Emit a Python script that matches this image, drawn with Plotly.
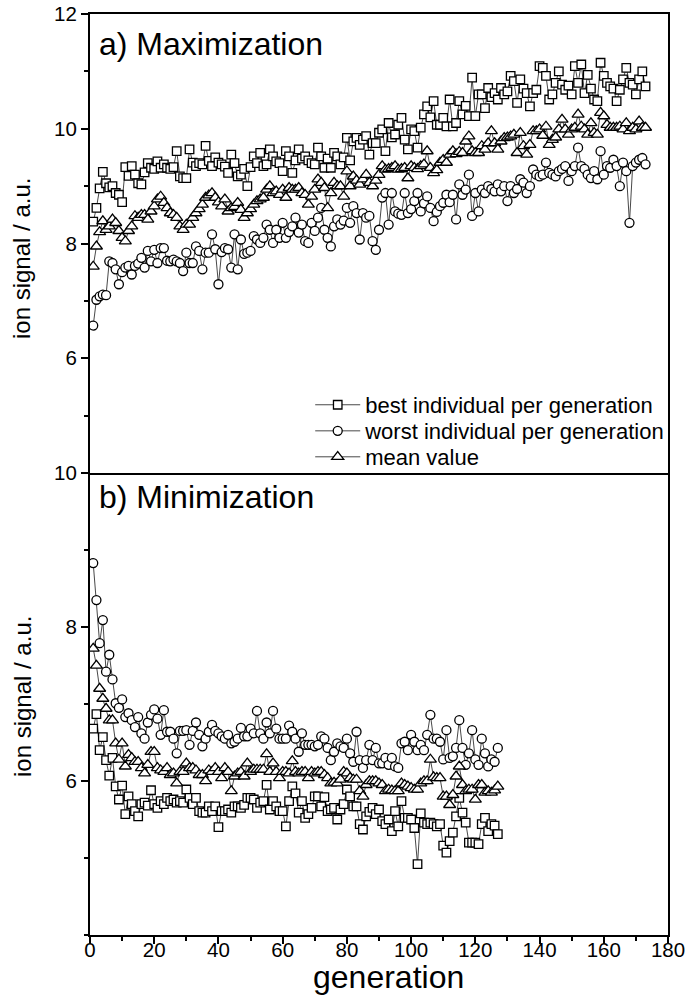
import plotly.graph_objects as go

# ---- a) Maximization: generations 1..173 ----
gen_max = list(range(1, 174))
max_best = [
    8.38, 8.62, 8.96, 9.25, 9.05, 8.98, 9.00, 8.88, 8.85, 8.72,
    9.33, 9.18, 9.35, 9.20, 9.05, 9.03, 9.24, 9.40, 9.32, 9.30,
    9.43, 9.32, 9.38, 9.32, 9.30, 9.33, 9.61, 9.17, 9.14, 9.14,
    9.64, 9.41, 9.35, 9.40, 9.38, 9.70, 9.44, 9.35, 9.50, 9.41,
    9.38, 9.34, 9.23, 9.55, 9.40, 9.17, 9.20, 9.30, 9.00, 9.33,
    9.52, 9.40, 9.58, 9.35, 9.38, 9.64, 9.52, 9.43, 9.40, 9.26,
    9.61, 9.52, 9.23, 9.45, 9.64, 9.48, 9.52, 9.45, 9.40, 9.38,
    9.67, 9.52, 9.32, 9.48, 9.32, 9.58, 9.52, 9.38, 9.50, 9.84,
    9.45, 9.78, 9.84, 9.72, 9.81, 9.87, 9.55, 9.75, 9.75, 9.93,
    9.99, 9.61, 10.10, 9.85, 9.90, 10.07, 10.19, 9.81, 9.64, 9.99,
    9.96, 9.67, 10.02, 10.25, 10.39, 10.20, 10.48, 10.07, 10.07, 10.19,
    10.04, 10.51, 10.04, 10.10, 10.48, 10.25, 10.40, 10.22, 10.89, 10.22,
    10.60, 10.60, 10.36, 10.71, 10.55, 10.62, 10.51, 10.71, 10.60, 10.65,
    10.92, 10.83, 10.45, 10.86, 10.70, 10.62, 10.39, 10.62, 10.68, 11.09,
    11.06, 10.92, 10.51, 10.60, 10.80, 11.00, 10.77, 10.68, 10.75, 10.60,
    11.09, 10.80, 11.12, 10.62, 10.94, 10.70, 10.51, 10.48, 11.15, 10.92,
    10.80, 10.74, 10.70, 10.48, 10.68, 10.86, 11.06, 10.80, 10.77, 10.60,
    10.86, 11.00, 10.74,
]
max_worst = [
    6.57, 7.02, 7.08, 7.11, 7.10, 7.69, 7.66, 7.55, 7.29, 7.50,
    7.58, 7.61, 7.46, 7.61, 7.65, 7.75, 7.58, 7.87, 7.69, 7.89,
    7.66, 7.92, 7.92, 7.70, 7.69, 7.72, 7.69, 7.66, 7.52, 7.84,
    7.66, 7.66, 7.95, 7.87, 7.55, 7.84, 7.84, 8.16, 7.90, 7.29,
    7.85, 7.92, 7.90, 7.58, 8.16, 7.55, 8.07, 7.82, 7.84, 7.87,
    8.13, 8.07, 8.01, 8.10, 8.33, 8.24, 8.01, 8.24, 8.10, 8.36,
    8.10, 8.20, 8.30, 8.45, 8.19, 8.33, 8.04, 8.01, 8.36, 8.22,
    8.45, 8.62, 8.24, 8.10, 7.95, 8.30, 8.42, 8.33, 8.40, 8.62,
    8.36, 8.65, 8.53, 8.07, 8.53, 8.45, 8.48, 8.04, 7.89, 8.24,
    8.80, 8.88, 8.33, 8.88, 8.56, 8.52, 8.50, 8.88, 8.53, 8.60,
    8.74, 8.88, 8.56, 8.70, 8.82, 8.62, 8.39, 8.55, 8.65, 8.71,
    8.85, 8.72, 8.85, 8.42, 9.03, 8.85, 8.94, 9.20, 8.48, 8.88,
    8.56, 8.94, 8.88, 9.00, 8.95, 8.91, 9.03, 8.91, 9.00, 8.74,
    9.00, 8.88, 8.95, 9.12, 9.06, 8.88, 9.00, 9.29, 9.20, 9.17,
    9.20, 9.41, 9.23, 9.20, 9.17, 9.26, 9.30, 9.35, 9.09, 9.26,
    9.35, 9.67, 9.35, 9.30, 9.20, 9.14, 9.26, 9.12, 9.61, 9.20,
    9.35, 9.32, 9.46, 9.35, 9.00, 9.41, 9.26, 8.36, 9.35, 9.41,
    9.46, 9.49, 9.38,
]
max_mean = [
    7.60, 7.95, 8.20, 8.39, 8.24, 8.30, 8.42, 8.36, 8.22, 8.10,
    8.04, 8.22, 8.30, 8.48, 8.45, 8.50, 8.50, 8.42, 8.56, 8.65,
    8.77, 8.82, 8.71, 8.62, 8.53, 8.50, 8.45, 8.30, 8.24, 8.33,
    8.33, 8.45, 8.53, 8.60, 8.68, 8.80, 8.84, 8.88, 8.80, 8.72,
    8.65, 8.77, 8.56, 8.62, 8.64, 8.71, 8.59, 8.45, 8.53, 8.60,
    8.68, 8.74, 8.77, 8.80, 8.94, 9.00, 8.88, 8.91, 8.85, 8.94,
    8.80, 8.97, 8.94, 8.94, 8.97, 8.88, 8.85, 8.68, 8.82, 8.94,
    9.12, 9.06, 8.97, 8.62, 8.88, 9.06, 9.00, 9.00, 8.82, 9.26,
    9.00, 9.17, 9.10, 9.03, 9.12, 9.20, 9.06, 9.00, 9.10, 9.20,
    9.35, 9.29, 9.30, 9.32, 9.35, 9.29, 9.30, 9.32, 9.14, 9.35,
    9.32, 9.30, 9.35, 9.38, 9.61, 9.32, 9.23, 9.28, 9.41, 9.46,
    9.41, 9.55, 9.61, 9.56, 9.60, 9.58, 9.78, 9.87, 9.61, 9.58,
    9.58, 9.70, 9.64, 9.75, 9.96, 9.75, 9.64, 9.78, 9.84, 9.85,
    9.87, 9.90, 9.58, 9.93, 9.70, 9.55, 9.72, 9.96, 9.96, 9.99,
    9.88, 10.04, 9.72, 9.81, 9.85, 9.99, 10.16, 9.99, 9.90, 9.99,
    10.02, 10.25, 10.04, 9.99, 9.90, 10.10, 9.93, 9.90, 10.28, 10.22,
    10.07, 10.02, 10.02, 10.02, 10.04, 9.99, 10.10, 9.96, 10.02, 9.99,
    10.13, 10.02, 10.02,
]

# ---- b) Minimization: generations 1..127 ----
gen_min = list(range(1, 128))
min_best = [
    6.68, 6.87, 6.40, 6.57, 6.27, 6.07, 6.30, 5.93, 5.76, 5.94,
    5.57, 5.80, 5.70, 5.61, 5.54, 5.70, 5.72, 5.68, 5.88, 5.70,
    5.65, 5.74, 5.70, 5.78, 5.74, 5.76, 5.72, 5.74, 5.72, 5.89,
    5.78, 5.70, 5.78, 5.61, 5.59, 5.59, 5.67, 5.61, 5.67, 5.40,
    5.61, 5.61, 5.63, 5.59, 5.67, 5.67, 5.65, 5.69, 5.78, 5.78,
    5.76, 5.65, 5.72, 5.74, 5.95, 5.63, 5.74, 5.67, 5.61, 5.61,
    5.41, 5.74, 5.93, 5.84, 5.59, 5.74, 5.52, 5.57, 5.65, 5.80,
    5.80, 5.67, 5.79, 5.61, 5.63, 5.65, 5.50, 5.63, 5.70, 5.89,
    5.80, 5.67, 5.67, 5.44, 5.37, 5.54, 5.60, 5.65, 5.57, 5.63,
    5.48, 5.44, 5.50, 5.35, 5.61, 5.41, 5.74, 5.52, 5.52, 5.50,
    5.39, 4.92, 5.58, 5.46, 5.44, 5.46, 5.44, 5.41, 5.44, 5.16,
    5.07, 5.22, 5.33, 5.54, 5.78, 5.59, 5.46, 5.20, 5.20, 5.20,
    5.18, 5.44, 5.52, 5.35, 5.44, 5.42, 5.31,
]
min_worst = [
    8.83, 8.35, 7.79, 8.09, 7.42, 7.64, 7.32, 7.01, 6.95, 7.06,
    6.83, 6.88, 6.79, 6.70, 6.83, 6.62, 6.55, 6.76, 6.86, 6.93,
    6.81, 6.60, 6.92, 6.64, 6.64, 6.55, 6.36, 6.65, 6.65, 6.66,
    6.47, 6.65, 6.76, 6.60, 6.45, 6.55, 6.64, 6.73, 6.65, 6.62,
    6.58, 6.55, 6.60, 6.49, 6.51, 6.55, 6.69, 6.58, 6.58, 6.68,
    6.62, 6.91, 6.62, 6.55, 6.76, 6.62, 6.91, 6.68, 6.55, 6.55,
    6.55, 6.72, 6.64, 6.55, 6.38, 6.62, 6.47, 6.47, 6.47, 6.45,
    6.47, 6.58, 6.55, 6.43, 6.27, 6.38, 6.49, 6.45, 6.43, 6.55,
    6.36, 6.25, 6.64, 6.27, 6.17, 6.27, 6.47, 6.27, 6.43, 6.23,
    6.23, 6.30, 6.21, 6.30, 6.19, 6.17, 6.49, 6.51, 6.40, 6.60,
    6.51, 6.40, 6.47, 6.40, 6.60, 6.86, 6.55, 6.55, 6.51, 6.28,
    6.66, 6.30, 6.32, 6.43, 6.79, 6.43, 6.21, 6.36, 6.66, 6.28,
    6.21, 6.55, 6.36, 6.19, 6.28, 6.25, 6.43,
]
min_mean = [
    7.72, 7.50, 7.20, 7.07, 6.94, 6.79, 6.79, 6.49, 6.28, 6.49,
    6.19, 6.34, 6.30, 6.25, 6.25, 6.17, 6.10, 6.21, 6.38, 6.38,
    6.17, 6.14, 6.12, 6.17, 6.08, 6.10, 5.97, 6.12, 6.12, 6.23,
    6.17, 6.17, 6.14, 6.08, 6.08, 6.00, 6.14, 6.12, 6.17, 6.12,
    6.04, 6.17, 6.12, 5.87, 6.06, 6.10, 6.12, 6.06, 6.23, 6.12,
    6.15, 6.15, 6.15, 6.15, 6.35, 6.12, 6.23, 6.12, 6.04, 6.12,
    6.12, 6.10, 6.26, 6.12, 6.10, 6.12, 6.12, 6.04, 6.12, 6.10,
    6.12, 6.12, 6.08, 6.04, 5.97, 5.98, 5.97, 6.02, 6.12, 6.10,
    6.04, 6.02, 6.02, 5.87, 5.80, 5.95, 6.00, 6.00, 6.00, 5.97,
    5.95, 5.87, 5.89, 5.88, 5.87, 5.87, 5.97, 5.95, 5.93, 5.91,
    5.89, 5.89, 5.97, 6.00, 6.00, 6.28, 6.05, 6.04, 6.04, 5.80,
    5.80, 5.69, 5.82, 6.06, 6.19, 5.95, 5.87, 5.89, 5.89, 5.76,
    5.95, 5.95, 5.85, 5.87, 5.85, 5.88, 5.93,
]

series_names = [
    "best individual per generation",
    "worst individual per generation",
    "mean value",
]
symbols = ["square", "circle", "triangle-up"]
sizes = [8.5, 9, 10.5]
legend_ids = ["legend", "legend2", "legend3"]

FONT = "Liberation Sans, Arial, sans-serif"
SPLIT = 0.5016  # boundary between the two panels (paper units)

fig = go.Figure()

panels = [
    ("x2", "y", gen_max, [max_best, max_worst, max_mean], True),
    ("x", "y2", gen_min, [min_best, min_worst, min_mean], False),
]
for xa, ya, gens, ys, show in panels:
    for name, sym, sz, vals, lg in zip(series_names, symbols, sizes, ys, legend_ids):
        fig.add_trace(go.Scatter(
            x=gens, y=vals, name=name, mode="lines+markers",
            xaxis=xa, yaxis=ya, showlegend=show, legend=lg,
            line=dict(color="#333333", width=0.9),
            marker=dict(symbol=sym, size=sz, color="white",
                        line=dict(color="black", width=1.3)),
        ))

axis_common = dict(showline=True, linecolor="black", linewidth=2,
                   showgrid=False, zeroline=False, color="black",
                   automargin=False,
                   tickfont=dict(family=FONT, size=20.5, color="black"))

y_minor = dict(dtick=1, tick0=0, ticks="outside", ticklen=4,
               tickwidth=1.5, tickcolor="black")

# one legend box per series, stacked in the lower right of panel a)
legend_rows = [0.5755, 0.5472, 0.519]
legend_boxes = {}
for lg, yrow in zip(legend_ids, legend_rows):
    legend_boxes[lg] = dict(
        x=0.381, xanchor="left", y=yrow, yanchor="middle",
        bgcolor="rgba(0,0,0,0)", borderwidth=0, itemwidth=45,
        font=dict(family=FONT, size=22, color="black"),
    )

fig.update_layout(
    width=688, height=1004,
    margin=dict(l=90, r=20, t=14, b=69, autoexpand=False),
    paper_bgcolor="white", plot_bgcolor="white",
    font=dict(family=FONT, color="black"),
    # bottom x axis (shared scale), only its lower line is drawn
    xaxis=dict(domain=[0, 1], anchor="y2", range=[0, 180], mirror=False,
               tick0=0, dtick=20, ticks="outside", ticklen=7, tickwidth=1.5,
               ticklabelstandoff=-12,
               minor=dict(dtick=10, tick0=0, ticks="outside", ticklen=4,
                          tickwidth=1.5, tickcolor="black"),
               **axis_common),
    # top-panel x axis: draws the top frame and the separator line
    xaxis2=dict(domain=[0, 1], anchor="y", range=[0, 180], matches="x",
                mirror=True, showticklabels=False, ticks="", **axis_common),
    yaxis=dict(domain=[SPLIT, 1], anchor="x2", range=[4, 12], mirror=True,
               tickmode="array", tickvals=[6, 8, 10, 12],
               ticks="outside", ticklen=7, tickwidth=1.5,
               minor=y_minor, **axis_common),
    yaxis2=dict(domain=[0, SPLIT], anchor="x", range=[4, 10], mirror=True,
                tickmode="array", tickvals=[6, 8, 10],
                ticks="outside", ticklen=7, tickwidth=1.5,
                minor=y_minor, **axis_common),
    showlegend=True,
    **legend_boxes,
)

annotations = [
    dict(text="a) Maximization", x=0.012, y=0.9672, xanchor="left", yanchor="middle"),
    dict(text="b) Minimization", x=0.012, y=0.4755, xanchor="left", yanchor="middle"),
]
for a in annotations:
    fig.add_annotation(xref="paper", yref="paper", showarrow=False,
                       font=dict(family=FONT, size=32, color="black"), **a)

fig.add_annotation(text="generation", xref="paper", yref="paper",
                   x=0.5156, y=-0.046, xanchor="center", yanchor="middle",
                   showarrow=False, font=dict(family=FONT, size=32, color="black"))
for yc in (0.734, 0.2584):
    fig.add_annotation(text="ion signal / a.u.", xref="paper", yref="paper",
                       x=-0.1176, y=yc, xanchor="center", yanchor="middle",
                       textangle=-90, showarrow=False,
                       font=dict(family=FONT, size=24, color="black"))

fig.write_html("out.html")
